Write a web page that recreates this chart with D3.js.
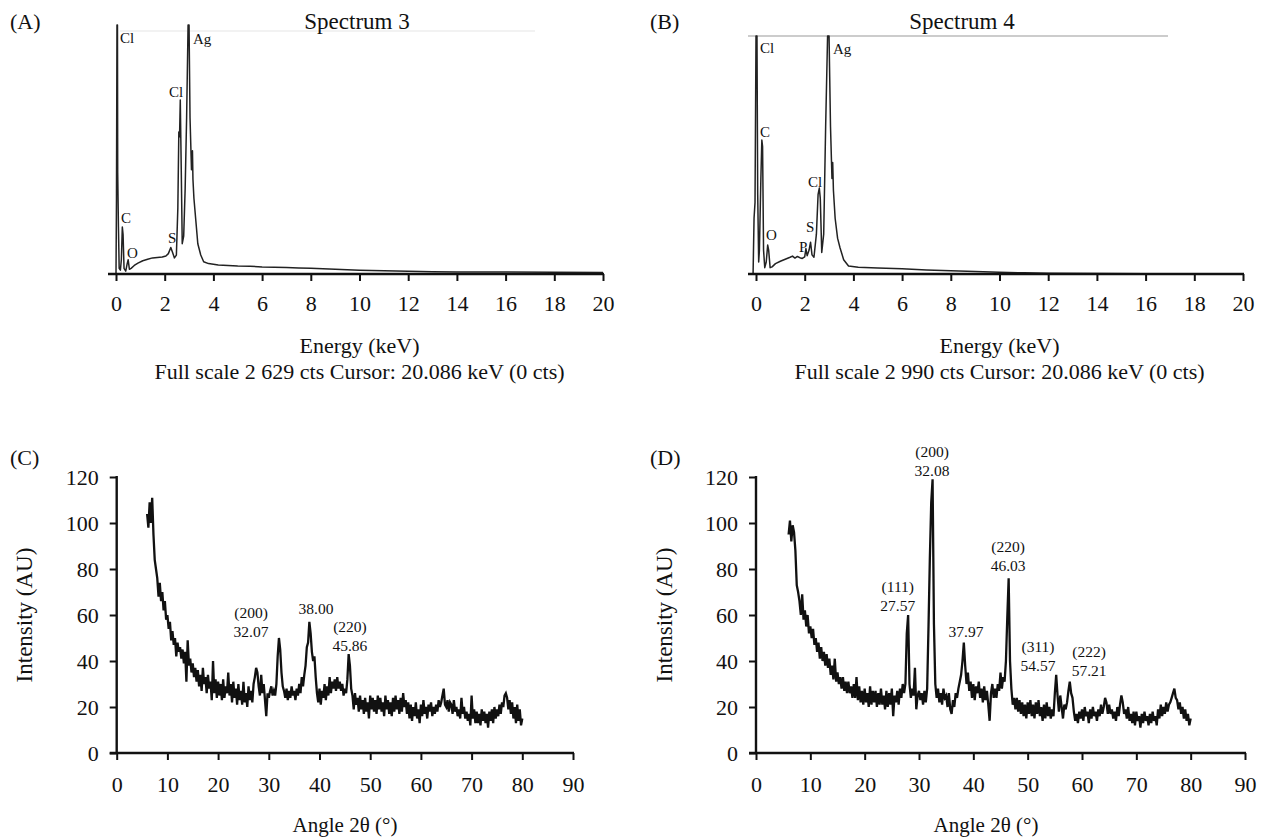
<!DOCTYPE html>
<html><head><meta charset="utf-8">
<script src="https://cdn.jsdelivr.net/npm/d3@7"></script>
<style>
body{margin:0;background:#fff}
text{font-family:"Liberation Serif",serif;fill:#111}
</style>
</head><body>
<svg id="chart" width="1268" height="839" font-family="Liberation Serif"></svg>
<script>
// ---------------- DATA ----------------
const edsTicks = [0,2,4,6,8,10,12,14,16,18,20];
const fullScaleA = 2629, fullScaleB = 2990;
// [keV, counts]
const spectrumA = [[-0.02,0],[0.0,0],[0.02,800],[0.04,2629],[0.06,2629],[0.07,1070],[0.10,500],[0.13,60],[0.18,40],[0.22,150],[0.26,496],[0.29,420],[0.33,60],[0.40,30],[0.46,110],[0.50,150],[0.55,50],[0.62,60],[0.75,90],[0.9,115],[1.1,140],[1.3,155],[1.5,170],[1.7,175],[1.9,180],[2.05,190],[2.15,215],[2.25,280],[2.32,230],[2.4,170],[2.48,200],[2.54,700],[2.58,1500],[2.61,1450],[2.64,1837],[2.68,1100],[2.72,320],[2.78,400],[2.84,900],[2.9,1650],[2.96,2629],[3.0,2629],[3.04,1650],[3.1,1100],[3.14,1300],[3.16,1000],[3.2,800],[3.28,560],[3.36,320],[3.48,200],[3.6,130],[3.8,110],[4.2,95],[4.6,90],[5.0,85],[5.5,82],[6.0,75],[6.5,72],[7.0,68],[7.5,64],[8.0,60],[8.5,55],[9.0,50],[9.5,45],[10.0,40],[10.5,36],[11,33],[12,28],[13,25],[14,22],[16,20],[18,18],[20,16]];
const spectrumB = [[-0.12,0],[-0.08,700],[-0.04,900],[0.0,2990],[0.04,2990],[0.07,1000],[0.11,150],[0.14,300],[0.2,1200],[0.24,1683],[0.27,1600],[0.31,300],[0.36,80],[0.42,150],[0.48,364],[0.52,300],[0.58,80],[0.66,90],[0.8,130],[1.0,160],[1.2,185],[1.4,210],[1.5,225],[1.6,200],[1.7,220],[1.8,205],[1.9,195],[2.0,215],[2.05,320],[2.1,230],[2.18,300],[2.24,400],[2.3,240],[2.38,210],[2.48,500],[2.55,1000],[2.6,1080],[2.64,950],[2.7,270],[2.78,500],[2.86,1850],[2.94,2990],[3.0,2990],[3.06,1850],[3.12,1200],[3.15,1400],[3.18,1050],[3.25,700],[3.35,450],[3.45,330],[3.6,180],[3.8,100],[4.2,85],[5.0,75],[6,65],[7,50],[8,40],[9,30],[10,22],[11,15],[12,10],[14,5],[16,3],[20,2]];
// EDS labels: [text, keV, counts]
const labelsA = [["Cl",0.16,2440],["Ag",3.16,2429],["Cl",2.18,1869],["C",0.21,539],["O",0.45,169],["S",2.14,327]];
const labelsB = [["Cl",0.16,2776],["Ag",3.16,2763],["C",0.16,1721],["O",0.41,427],["P",1.77,276],["S",2.05,528],["Cl",2.14,1093]];

const xrdXTicks = [0,10,20,30,40,50,60,70,80,90];
const xrdYTicks = [0,20,40,60,80,100,120];
const xrdStart = 6, xrdStep = 0.25;
const xrdC = [
104,98,109,100, 111,95,84,80, 76,68,74,66, 70,62,66,58, 60,54,57,49,
53,47,50,42, 48,44,46,41, 45,39,44,31, 49,38,41,35, 39,33,37,31,
36,29,34,27, 37,30,33,26, 34,28,31,23, 40,26,32,24, 31,25,30,23,
32,24,29,26, 35,25,30,22, 31,24,28,21, 30,23,27,21, 31,22,26,20,
29,23,27,22, 30,33,37,35, 29,25,34,26, 30,23,16,26, 24,27,29,25,
27,25,30,42, 50,45,35,29, 27,24,28,23, 27,24,29,25, 27,23,28,25,
30,26,33,29, 34,38,46,48, 57,52,44,40, 42,33,26,22, 28,21,27,24,
30,23,29,25, 33,26,31,28, 32,27,33,28, 31,27,30,25, 28,26,32,43,
38,28,25,19, 26,21,24,18, 25,19,23,17, 24,18,22,15, 25,19,24,18,
23,17,25,19, 24,18,22,16, 25,19,23,17, 22,16,24,18, 25,19,23,17,
24,18,26,20, 23,17,22,15, 21,14,20,16, 22,15,19,13, 21,16,23,17,
20,15,21,18, 22,16,20,17, 21,18,23,20, 22,25,28,21, 20,23,18,22,
21,17,23,18, 20,16,19,15, 24,17,20,15, 18,14,17,12, 25,15,19,13,
18,13,17,12, 19,14,18,13, 17,11,18,14, 19,13,20,15, 19,16,21,17,
22,20,25,26, 24,19,23,17, 22,15,20,13, 21,14,19,12, 15];
const xrdD = [
95,101,92,99, 96,88,73,70, 66,60,69,58, 62,55,60,52, 55,50,54,47,
50,44,48,41, 46,40,44,38, 43,37,41,34, 38,32,41,31, 35,30,33,28,
33,27,31,26, 31,26,29,24, 30,24,33,23, 29,22,27,21, 28,22,26,20,
29,21,27,22, 27,20,26,21, 28,21,25,19, 27,20,26,21, 28,16,25,22,
27,21,28,24, 30,26,30,52, 60,30,24,28, 25,37,19,25, 27,23,26,21,
27,22,28,55, 85,109,119,56, 30,24,28,22, 26,21,28,24, 25,20,26,19,
17,23,20,26, 24,28,31,34, 40,48,38,30, 35,27,31,24, 30,23,29,26,
31,24,28,22, 29,23,27,21, 14,26,30,24, 28,24,30,27, 35,28,33,31,
40,59,76,40, 28,21,24,19, 24,18,23,17, 22,16,21,15, 22,17,23,16,
21,15,22,17, 23,16,20,14, 21,15,22,16, 20,15,19,16, 26,34,25,18,
25,20,15,21, 19,22,27,31, 26,24,18,14, 17,13,18,15, 19,14,20,16,
18,13,19,15, 20,16,18,14, 19,16,21,17, 20,24,22,17, 21,17,19,15,
18,14,20,16, 21,25,22,17, 19,15,20,14, 17,13,18,12, 18,14,16,11,
17,13,18,14, 16,12,17,13, 18,14,16,12, 19,15,21,16, 20,17,22,18,
21,22,24,26, 28,24,23,19, 22,17,20,15, 19,14,17,12, 15];
// XRD annotations: [lines, angle, intensity]
const annC = [[["(200)","32.07"],26.5,61],[["38.00"],39.3,62.6],[["(220)","45.86"],46.0,54.8]];
const annD = [[["(200)","32.08"],32.4,131],[["(111)","27.57"],26.1,72.2],[["37.97"],38.65,52.6],[["(220)","46.03"],46.4,89.6],[["(311)","54.57"],51.9,46],[["(222)","57.21"],61.3,43.9]];

// ---------------- DRAW ----------------
const FONT = "Liberation Serif";
const svg = d3.select("#chart");

function styleAxis(g){
  g.attr("font-family",FONT);
  g.selectAll(".domain").remove();
  g.selectAll(".tick line").attr("stroke","#111").attr("stroke-width",2);
  g.selectAll(".tick text").attr("fill","#111").style("font-family",FONT).style("font-size","22px");
}
function txt(sel, size){ return sel.style("font-family",FONT).style("font-size",size+"px"); }

function edsPanel(opts){
  const x = d3.scaleLinear().domain([0,20]).range(opts.xr);
  const y = d3.scaleLinear().domain([0,opts.full]).range([274,opts.top]);
  svg.append("line").attr("x1",opts.frame[0]).attr("x2",opts.frame[1]).attr("y1",opts.frameY).attr("y2",opts.frameY)
    .attr("stroke",opts.frameColor).attr("stroke-width",1.2);
  svg.append("path").datum(opts.data)
    .attr("d",d3.line().x(d=>x(d[0])).y(d=>y(Math.min(d[1],opts.full))))
    .attr("fill","none").attr("stroke","#222").attr("stroke-width",1.5).attr("stroke-linejoin","round");
  const g = svg.append("g").attr("transform","translate(0,274)")
    .call(d3.axisBottom(x).tickValues(edsTicks).tickSize(7).tickPadding(14).tickFormat(d3.format("d")));
  styleAxis(g);
  svg.append("line").attr("x1",opts.xr[0]-8).attr("x2",opts.xr[1]+1).attr("y1",274).attr("y2",274)
    .attr("stroke","#111").attr("stroke-width",2.4);
  txt(svg.append("g").selectAll("text").data(opts.labels).join("text")
    .attr("x",d=>x(d[1])).attr("y",d=>y(d[2])), 15).text(d=>d[0]);
  const cx = (opts.xr[0]+opts.xr[1])/2;
  txt(svg.append("text").attr("x",opts.titleX).attr("y",29).attr("text-anchor","middle"),23).text(opts.title);
  txt(svg.append("text").attr("x",opts.tag[0]).attr("y",29),22).text(opts.tag[1]);
  txt(svg.append("text").attr("x",cx).attr("y",353).attr("text-anchor","middle"),22).text("Energy (keV)");
  txt(svg.append("text").attr("x",cx).attr("y",379).attr("text-anchor","middle"),22).text(opts.foot);
}

edsPanel({xr:[116,603], full:fullScaleA, top:25, data:spectrumA, labels:labelsA,
  frame:[120,535], frameY:31, frameColor:"#e6e6e6", title:"Spectrum 3", titleX:357, tag:[10,"(A)"],
  foot:"Full scale 2 629 cts Cursor: 20.086 keV (0 cts)"});
edsPanel({xr:[756,1243], full:fullScaleB, top:36, data:spectrumB, labels:labelsB,
  frame:[748,1168], frameY:36, frameColor:"#9a9a9a", title:"Spectrum 4", titleX:962, tag:[650,"(B)"],
  foot:"Full scale 2 990 cts Cursor: 20.086 keV (0 cts)"});

function xrdPanel(opts){
  const x = d3.scaleLinear().domain([0,90]).range(opts.xr);
  const y = d3.scaleLinear().domain([0,120]).range([753,477]);
  const pts = opts.data.map((v,i)=>[xrdStart+i*xrdStep, v]);
  svg.append("path").datum(pts)
    .attr("d",d3.line().x(d=>x(d[0])).y(d=>y(d[1])))
    .attr("fill","none").attr("stroke","#111").attr("stroke-width",2.3).attr("stroke-linejoin","miter");
  const gx = svg.append("g").attr("transform","translate(0,753)")
    .call(d3.axisBottom(x).tickValues(xrdXTicks).tickSize(7).tickPadding(16));
  styleAxis(gx);
  const gy = svg.append("g").attr("transform",`translate(${opts.xr[0]},0)`)
    .call(d3.axisLeft(y).tickValues(xrdYTicks).tickSize(7).tickPadding(11));
  styleAxis(gy);
  svg.append("line").attr("x1",opts.xr[0]-7).attr("x2",opts.xr[1]+1).attr("y1",753).attr("y2",753)
    .attr("stroke","#111").attr("stroke-width",2.4);
  svg.append("line").attr("x1",opts.xr[0]).attr("x2",opts.xr[0]).attr("y1",476).attr("y2",754)
    .attr("stroke","#111").attr("stroke-width",2.4);
  const ag = svg.append("g");
  opts.ann.forEach(a=>{
    const t = txt(ag.append("text").attr("x",x(a[1])).attr("y",y(a[2])+5).attr("text-anchor","middle"),15.5);
    a[0].forEach((s,i)=>t.append("tspan").attr("x",x(a[1])).attr("dy",i?"1.22em":0).text(s));
  });
  txt(svg.append("text").attr("x",opts.tag[0]).attr("y",465),22).text(opts.tag[1]);
  txt(svg.append("text").attr("transform",`translate(${opts.ylabX},615) rotate(-90)`).attr("text-anchor","middle")
    .attr("dy","0.35em"),23).text("Intensity (AU)");
  txt(svg.append("text").attr("x",opts.xlabX).attr("y",832).attr("text-anchor","middle"),21).text("Angle 2θ (°)");
}

xrdPanel({xr:[116.7,573], data:xrdC, ann:annC, tag:[10,"(C)"], ylabX:24, xlabX:345});
xrdPanel({xr:[756,1245], data:xrdD, ann:annD, tag:[650,"(D)"], ylabX:664, xlabX:986});
</script>
</body></html>
